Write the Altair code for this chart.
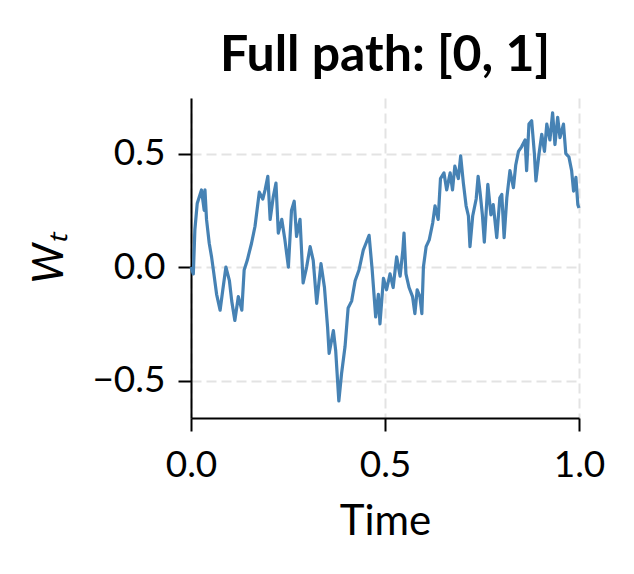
import altair as alt
import pandas as pd

# Time grid points
times = [
    0.000, 0.006, 0.010, 0.016, 0.027, 0.034, 0.036, 0.040, 0.047, 0.053,
    0.059, 0.066, 0.075, 0.082, 0.090, 0.099, 0.105, 0.113, 0.122, 0.131,
    0.137, 0.145, 0.156, 0.165, 0.176, 0.185, 0.191, 0.198, 0.204, 0.212,
    0.219, 0.225, 0.234, 0.242, 0.251, 0.259, 0.266, 0.272, 0.281, 0.289,
    0.298, 0.307, 0.315, 0.324, 0.335, 0.344, 0.352, 0.356, 0.367, 0.373,
    0.381, 0.388, 0.397, 0.405, 0.414, 0.423, 0.433, 0.444, 0.451, 0.459,
    0.467, 0.476, 0.483, 0.487, 0.496, 0.504, 0.513, 0.521, 0.530, 0.539,
    0.546, 0.549, 0.554, 0.562, 0.571, 0.577, 0.583, 0.590, 0.595, 0.599,
    0.606, 0.614, 0.623, 0.629, 0.637, 0.643, 0.652, 0.659, 0.668, 0.674,
    0.680, 0.689, 0.695, 0.702, 0.709, 0.715, 0.719, 0.726, 0.735, 0.740,
    0.745, 0.751, 0.756, 0.765, 0.773, 0.779, 0.788, 0.796, 0.801, 0.807,
    0.814, 0.822, 0.831, 0.837, 0.844, 0.852, 0.861, 0.865, 0.871, 0.878,
    0.885, 0.889, 0.897, 0.904, 0.911, 0.917, 0.925, 0.932, 0.938, 0.945,
    0.951, 0.960, 0.966, 0.974, 0.981, 0.986, 0.992, 0.997, 1.000,
]

# Path values W_t
values = [
    0.00, -0.03, 0.165, 0.28, 0.34, 0.25, 0.34, 0.21, 0.105, 0.045,
    -0.03, -0.12, -0.19, -0.10, 0.00, -0.06, -0.15, -0.235, -0.13, -0.19,
    -0.013, 0.03, 0.105, 0.18, 0.33, 0.30, 0.34, 0.40, 0.21, 0.31,
    0.37, 0.15, 0.21, 0.12, 0.00, 0.25, 0.29, 0.135, 0.21, -0.07,
    0.00, 0.09, 0.03, -0.16, 0.015, -0.09, -0.265, -0.38, -0.28, -0.37,
    -0.59, -0.47, -0.35, -0.18, -0.15, -0.06, -0.013, 0.075, 0.105, 0.14,
    -0.013, -0.22, -0.12, -0.25, -0.05, -0.10, -0.03, -0.09, 0.045, -0.04,
    0.075, 0.15, -0.03, -0.09, -0.13, -0.205, -0.10, -0.13, -0.205, 0.00,
    0.09, 0.12, 0.195, 0.27, 0.21, 0.39, 0.415, 0.34, 0.415, 0.34,
    0.445, 0.39, 0.49, 0.37, 0.27, 0.225, 0.09, 0.225, 0.30, 0.40,
    0.33, 0.23, 0.11, 0.365, 0.23, 0.275, 0.13, 0.305, 0.32, 0.13,
    0.305, 0.425, 0.35, 0.45, 0.51, 0.53, 0.56, 0.425, 0.63, 0.645,
    0.50, 0.38, 0.50, 0.585, 0.51, 0.63, 0.56, 0.68, 0.54, 0.66,
    0.57, 0.63, 0.50, 0.485, 0.425, 0.335, 0.395, 0.275, 0.26,
]

x_ticks = [0.0, 0.5, 1.0]
y_ticks = [-0.5, 0.0, 0.5]

df = pd.DataFrame({"t": times, "w": values})

FONT = "Lato"

chart = (
    alt.Chart(df)
    .mark_line(color="#4682b4", strokeWidth=3.2, strokeJoin="round")
    .encode(
        x=alt.X(
            "t:Q",
            scale=alt.Scale(domain=[0, 1], nice=False, zero=False),
            axis=alt.Axis(values=x_ticks, format=".1f", title="Time",
                          labelFlush=False, labelPadding=16, titlePadding=18),
        ),
        y=alt.Y(
            "w:Q",
            scale=alt.Scale(domain=[-0.665, 0.745], nice=False, zero=False),
            axis=alt.Axis(values=y_ticks, format=".1f", title="Wₜ",
                          titleFontStyle="italic", titleFontWeight="normal",
                          labelFlush=False, labelPadding=13, titlePadding=20),
        ),
    )
    .properties(
        width=388,
        height=320,
        autosize="none",
        padding={"left": 183, "top": 90, "right": 47, "bottom": 140},
        title=alt.TitleParams(
            "Full path: [0, 1]",
            fontSize=50,
            fontWeight="bold",
            font=FONT,
            color="black",
            anchor="middle",
            offset=17,
        ),
    )
    .configure_view(stroke=None)
    .configure_axis(
        labelFont=FONT,
        titleFont=FONT,
        labelFontSize=37,
        titleFontSize=42,
        titleFontWeight="normal",
        labelColor="black",
        titleColor="black",
        domainColor="black",
        domainWidth=2,
        tickColor="black",
        tickWidth=2,
        tickSize=13,
        grid=True,
        gridColor="#e3e3e3",
        gridDash=[10, 5],
        gridWidth=2,
    )
)

chart.save("out.html", embed_options={"renderer": "svg", "actions": False})
